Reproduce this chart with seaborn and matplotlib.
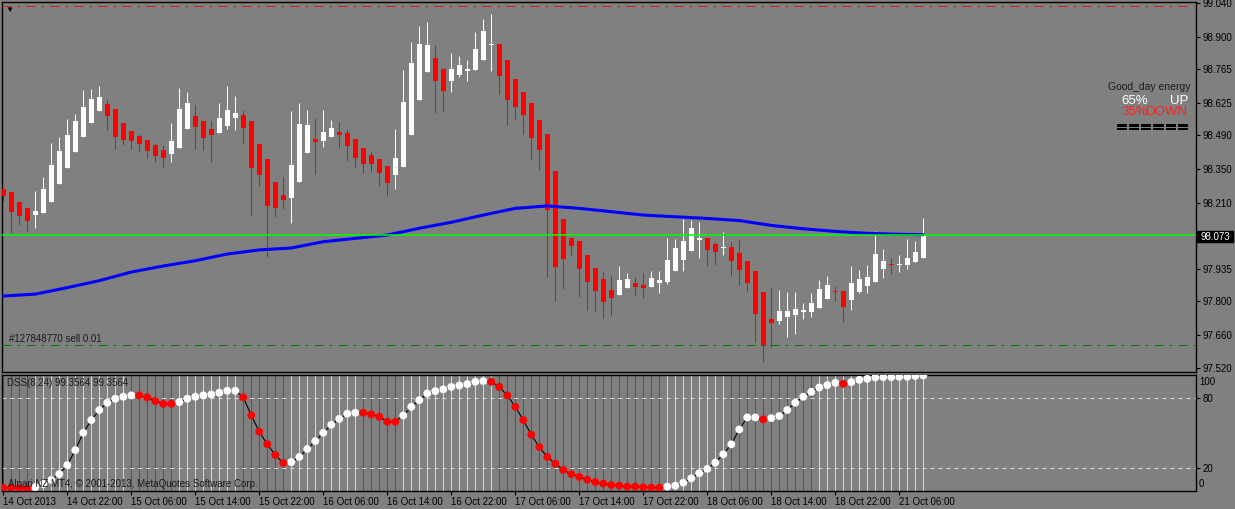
import numpy as np
import pandas as pd
import seaborn as sns
import matplotlib.pyplot as plt
import matplotlib.patheffects as pe
from matplotlib.patches import Rectangle

# USDJPY-like H1 candles, 14 Oct 14:00 .. 21 Oct 09:00
opens = [98.266, 98.254, 98.212, 98.187, 98.158, 98.167, 98.212, 98.287, 98.354, 98.420,
         98.483, 98.541, 98.591, 98.620, 98.599, 98.541, 98.508, 98.487, 98.470, 98.450,
         98.429, 98.412, 98.437, 98.516, 98.570, 98.549, 98.516, 98.500, 98.529, 98.562,
         98.574, 98.549, 98.454, 98.391, 98.296, 98.241, 98.229, 98.296, 98.416, 98.475,
         98.466, 98.483, 98.504, 98.500, 98.475, 98.437, 98.408, 98.391, 98.362, 98.325,
         98.358, 98.491, 98.637, 98.753, 98.812, 98.766, 98.716, 98.741, 98.758, 98.762,
         98.803, 98.866, 98.870, 98.803, 98.724, 98.670, 98.624, 98.554, 98.495, 98.341,
         98.142, 98.063, 98.050, 97.992, 97.938, 97.892, 97.846, 97.825, 97.854, 97.875,
         97.867, 97.859, 97.875, 97.879, 97.925, 97.971, 98.008, 98.054, 98.063, 98.038,
         98.021, 98.025, 98.000, 97.967, 97.925, 97.838, 97.725, 97.717, 97.734, 97.742,
         97.755, 97.755, 97.771, 97.809, 97.842, 97.842, 97.805, 97.838, 97.863, 97.879,
         97.934, 97.954, 97.950, 97.950, 97.963, 97.979]
highs = [98.266, 98.254, 98.212, 98.187, 98.258, 98.316, 98.458, 98.483, 98.558, 98.579,
         98.678, 98.683, 98.695, 98.637, 98.599, 98.541, 98.508, 98.495, 98.470, 98.458,
         98.450, 98.541, 98.687, 98.670, 98.616, 98.549, 98.549, 98.624, 98.695, 98.653,
         98.595, 98.549, 98.454, 98.391, 98.296, 98.316, 98.591, 98.624, 98.595, 98.562,
         98.595, 98.554, 98.545, 98.516, 98.475, 98.437, 98.425, 98.391, 98.362, 98.516,
         98.762, 98.878, 98.945, 98.961, 98.866, 98.770, 98.832, 98.820, 98.803, 98.920,
         98.974, 98.995, 98.870, 98.803, 98.724, 98.670, 98.624, 98.554, 98.495, 98.341,
         98.142, 98.067, 98.050, 97.992, 97.938, 97.925, 97.904, 97.946, 97.917, 97.900,
         97.917, 97.925, 97.925, 98.063, 98.058, 98.142, 98.137, 98.129, 98.063, 98.046,
         98.088, 98.046, 98.054, 97.967, 97.925, 97.838, 97.859, 97.846, 97.838, 97.838,
         97.792, 97.834, 97.888, 97.904, 97.863, 97.842, 97.946, 97.929, 97.950, 98.092,
         98.017, 97.979, 97.992, 98.058, 98.050, 98.146]
lows = [98.217, 98.083, 98.117, 98.088, 98.104, 98.167, 98.212, 98.287, 98.354, 98.420,
        98.483, 98.541, 98.591, 98.512, 98.433, 98.450, 98.433, 98.420, 98.395, 98.379,
        98.358, 98.379, 98.437, 98.516, 98.433, 98.429, 98.379, 98.500, 98.516, 98.512,
        98.454, 98.154, 98.279, 97.983, 98.150, 98.183, 98.125, 98.296, 98.416, 98.329,
        98.441, 98.483, 98.437, 98.383, 98.354, 98.333, 98.337, 98.279, 98.237, 98.266,
        98.358, 98.491, 98.637, 98.753, 98.583, 98.587, 98.670, 98.733, 98.716, 98.762,
        98.803, 98.758, 98.662, 98.533, 98.554, 98.495, 98.387, 98.346, 97.900, 97.800,
        97.850, 97.988, 97.817, 97.763, 97.755, 97.730, 97.742, 97.825, 97.854, 97.825,
        97.813, 97.859, 97.834, 97.871, 97.925, 97.925, 98.008, 97.979, 97.946, 97.950,
        97.992, 97.904, 97.867, 97.842, 97.630, 97.547, 97.609, 97.705, 97.651, 97.663,
        97.725, 97.734, 97.771, 97.809, 97.800, 97.713, 97.763, 97.834, 97.834, 97.879,
        97.896, 97.913, 97.921, 97.934, 97.963, 97.979]
closes = [98.237, 98.171, 98.154, 98.133, 98.175, 98.266, 98.366, 98.425, 98.491, 98.549,
          98.608, 98.641, 98.649, 98.570, 98.483, 98.470, 98.466, 98.454, 98.425, 98.404,
          98.395, 98.466, 98.599, 98.624, 98.524, 98.479, 98.491, 98.562, 98.595, 98.583,
          98.520, 98.354, 98.325, 98.196, 98.187, 98.221, 98.366, 98.537, 98.533, 98.462,
          98.504, 98.520, 98.491, 98.445, 98.395, 98.371, 98.371, 98.333, 98.291, 98.395,
          98.629, 98.791, 98.870, 98.866, 98.716, 98.674, 98.766, 98.782, 98.766, 98.849,
          98.924, 98.870, 98.737, 98.637, 98.608, 98.574, 98.479, 98.429, 98.179, 97.942,
          97.975, 98.029, 97.934, 97.879, 97.842, 97.796, 97.813, 97.888, 97.892, 97.859,
          97.854, 97.896, 97.888, 97.971, 98.021, 98.050, 98.104, 98.063, 98.013, 98.004,
          98.025, 97.967, 97.929, 97.875, 97.746, 97.613, 97.709, 97.759, 97.759, 97.767,
          97.763, 97.792, 97.850, 97.867, 97.838, 97.775, 97.875, 97.892, 97.900, 97.996,
          97.967, 97.950, 97.954, 97.979, 98.004, 98.073]

# moving average (blue), sampled every 4 bars
ma_bars = [0, 4, 8, 12, 16, 20, 24, 28, 32, 36, 40, 44, 48, 52, 56, 60, 64, 68, 72, 76,
           80, 84, 88, 92, 96, 100, 104, 108, 112, 115]
ma_vals = [97.821, 97.829, 97.856, 97.885, 97.921, 97.946, 97.968, 97.996, 98.013, 98.021,
           98.047, 98.061, 98.075, 98.103, 98.128, 98.158, 98.186, 98.196, 98.186, 98.172,
           98.158, 98.151, 98.144, 98.135, 98.115, 98.101, 98.090, 98.082, 98.078, 98.076]

# DSS(8,24)
dss = [2.6, 2.4, 2.2, 2.0, 3.0, 5.8, 9.3, 14.4, 22.2, 35.2,
       50.2, 61.2, 69.9, 76.2, 79.7, 81.4, 82.6, 82.6, 80.9, 77.7,
       75.3, 75.3, 76.8, 79.7, 81.4, 82.6, 83.4, 84.9, 86.6, 86.6,
       80.9, 65.3, 51.1, 40.2, 30.9, 24.0, 24.8, 29.2, 36.1, 43.0,
       50.2, 57.1, 62.3, 66.7, 67.5, 67.5, 66.1, 64.1, 59.7, 59.7,
       65.2, 72.7, 78.5, 84.3, 86.3, 87.8, 90.0, 91.2, 92.4, 94.4,
       95.0, 94.4, 90.0, 82.6, 72.7, 61.2, 48.5, 37.8, 29.2, 23.4,
       17.9, 14.4, 11.9, 9.5, 7.5, 6.1, 4.9, 4.3, 3.5, 3.5,
       3.0, 2.6, 2.6, 3.5, 4.3, 6.9, 10.7, 15.1, 18.8, 24.3,
       31.5, 40.2, 53.1, 63.5, 63.5, 61.8, 62.9, 64.7, 69.9, 76.2,
       81.4, 85.7, 89.5, 91.5, 93.5, 92.6, 94.1, 96.1, 97.0, 98.2,
       98.5, 98.5, 98.8, 98.8, 99.4, 99.9]
dss_down = [(0, 3), (17, 21), (30, 35), (45, 49), (61, 82), (95, 95), (105, 105)]
hist_down = [(0, 3), (16, 21), (30, 35), (45, 49), (62, 82), (91, 101)]

time_idx = [0, 8, 16, 24, 32, 40, 48, 56, 64, 72, 80, 88, 96, 104, 112]
time_labels = ['14 Oct 2013', '14 Oct 22:00', '15 Oct 06:00', '15 Oct 14:00', '15 Oct 22:00',
               '16 Oct 06:00', '16 Oct 14:00', '16 Oct 22:00', '17 Oct 06:00', '17 Oct 14:00',
               '17 Oct 22:00', '18 Oct 06:00', '18 Oct 14:00', '18 Oct 22:00', '21 Oct 06:00']
price_ticks = [99.040, 98.900, 98.765, 98.625, 98.490, 98.350, 98.210, 97.935, 97.800, 97.660, 97.520]
bid = 98.073
tp_level = 99.028
order_level = 97.617

GRAY = '#808080'
sns.set_style('ticks', {'axes.facecolor': GRAY, 'figure.facecolor': GRAY,
                        'axes.edgecolor': 'black'})
plt.rcParams['font.family'] = ['Liberation Sans', 'DejaVu Sans']

n = len(opens)
x = np.arange(n)
o = np.array(opens); c = np.array(closes)
up = c >= o
ccol = np.where(up, 'white', '#ff0000')

def flags(ranges):
    f = np.zeros(n, bool)
    for a, b in ranges:
        f[a:b + 1] = True
    return f

W, H = 1235, 509
fig = plt.figure(figsize=(W / 100, H / 100), dpi=100, facecolor=GRAY)
ax = fig.add_axes([2 / W, 137 / H, 1194 / W, 370 / H])
ax2 = fig.add_axes([2 / W, 18 / H, 1194 / W, 116 / H])
xlim = (-0.16, 149.09)
PX = 0.72  # one pixel in points

# --- price panel
ax.vlines(x, lows, highs, colors=ccol, lw=PX, zorder=2, snap=True)
ax.bar(x, np.maximum(np.abs(c - o), 0.004), bottom=np.minimum(o, c), width=0.625,
       color=ccol, linewidth=0, zorder=3, antialiased=False)
sns.lineplot(x=ma_bars, y=ma_vals, ax=ax, color='#0000ff', lw=2.2, zorder=4)
ax.axhline(bid, color='#00ff00', lw=1.1, zorder=5)
ax.axhline(tp_level, color='#cc2222', lw=PX, ls=(0, (9, 6, 3, 6)), zorder=5)
ax.axhline(order_level, color='#007a00', lw=PX, ls=(0, (9, 6, 3, 6)), zorder=5)
ax.set_xlim(*xlim)
ax.set_ylim(97.5049, 99.0447)
ax.set_xticks([])
ax.yaxis.tick_right()
ax.set_yticks(price_ticks)
ax.set_yticklabels(['%.3f' % p for p in price_ticks])
ax.tick_params(axis='y', length=3, width=0.8, pad=2, labelsize=7, colors='black')
for s in ax.spines.values():
    s.set_color('black'); s.set_linewidth(1)
ax.set_xlabel(''); ax.set_ylabel('')

# --- DSS panel: full-height direction histogram, levels, DSS dots
hcol = np.where(flags(hist_down), '#dc143c', '#d8d8d8')
ax2.bar(x, 100.6, bottom=-0.3, width=0.15, color=hcol, linewidth=0,
        antialiased=False, zorder=1)
for lv in (80, 20):
    ax2.axhline(lv, color='#dcdcdc', lw=PX, ls=(0, (4, 4)), zorder=2)
df = pd.DataFrame({'bar': x, 'dss': dss,
                   'state': np.where(flags(dss_down), 'down', 'up')})
sns.lineplot(data=df, x='bar', y='dss', ax=ax2, color='black', lw=0.8, zorder=3)
sns.scatterplot(data=df, x='bar', y='dss', hue='state', ax=ax2, s=32, linewidth=0,
                palette={'up': 'white', 'down': '#ff0000'}, legend=False, zorder=4)
ax2.set_xlim(*xlim)
ax2.set_ylim(-0.3, 100.3)
ax2.yaxis.tick_right()
ax2.set_yticks([80, 20])
ax2.set_yticklabels(['80', '20'])
ax2.set_xticks(time_idx)
ax2.set_xticklabels(time_labels, ha='left')
ax2.tick_params(axis='y', length=3, width=0.8, pad=2, labelsize=7, colors='black')
ax2.tick_params(axis='x', length=3, width=0.8, pad=1, labelsize=7, colors='black')
for s in ax2.spines.values():
    s.set_color('black'); s.set_linewidth(1)
ax2.set_xlabel(''); ax2.set_ylabel('')

def ft(px, py, s, **kw):
    return fig.text(px / W, 1 - py / H, s, va='center', **kw)

ft(1199, 382, '100', fontsize=7, color='black')
ft(1199, 484, '0', fontsize=7, color='black')

# bid label on price scale
fig.patches.append(Rectangle((1197 / W, 1 - 242 / H), 36 / W, 11 / H,
                             transform=fig.transFigure, color='black', zorder=10))
ft(1215, 236.5, '%.3f' % bid, fontsize=7, color='white', ha='center', zorder=11)

# texts on chart
ft(9.5, 10.5, '\u25bc', fontsize=6, color='black', ha='center')
ft(9, 339.5, '#127848770 sell 0.01', fontsize=7, color='#1a1a1a')
ft(7, 383, 'DSS(8,24) 99.3564 99.3564', fontsize=7, color='#1a1a1a')
ft(8, 484, 'Alpari NZ MT4, \u00a9 2001-2013, MetaQuotes Software Corp.', fontsize=7, color='#1a1a1a')
ft(1190, 87, 'Good_day energy', fontsize=7.5, color='#1a1a1a', ha='right')
ft(1121, 101.5, '65%', fontsize=9.5, color='white')
ft(1188, 101.5, 'UP', fontsize=9.5, color='white', ha='right')
ft(1121, 112, '35%', fontsize=9.5, color='#ff2020')
ft(1188, 112, 'DOWN', fontsize=9.5, color='#ff2020', ha='right')
bars_txt = ft(1188, 127, '======', fontsize=10.5, color='black', ha='right',
              fontweight='bold', family='DejaVu Sans')
bars_txt.set_path_effects([pe.withStroke(linewidth=0.7, foreground='black')])

fig.savefig('out.png', dpi=100, facecolor=GRAY)
